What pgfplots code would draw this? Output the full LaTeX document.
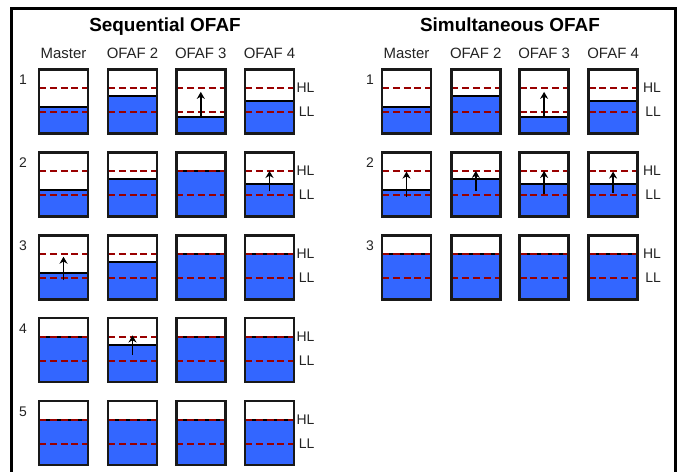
\documentclass[border=0pt]{standalone}
\usepackage{fontspec}
\setmainfont{Liberation Sans}
\usepackage{pgfplots}
\pgfplotsset{compat=1.18}
\usetikzlibrary{arrows.meta}

\definecolor{tankblue}{RGB}{51,102,255}
\definecolor{limitred}{RGB}{153,0,0}
\definecolor{textgray}{RGB}{35,35,35}

% tank: left x, top y (pixels), fill level as fraction of height
% HL = 0.71, LL = 0.335
\newcommand{\tank}[3]{%
  \pgfmathsetmacro\xa{#1}\pgfmathsetmacro\xb{#1+49}%
  \pgfmathsetmacro\ybot{#2+64}%
  \pgfmathsetmacro\ylev{#2+64*(1-#3)}%
  \pgfmathsetmacro\yhl{#2+64*(1-0.71)}%
  \pgfmathsetmacro\yll{#2+64*(1-0.335)}%
  \addplot[fill=tankblue,draw=none] coordinates {(\xa,\ybot) (\xb,\ybot) (\xb,\ylev) (\xa,\ylev)} -- cycle;
  \addplot[black,line width=2bp] coordinates {(\xa,\ylev) (\xb,\ylev)};
  \addplot[limit] coordinates {(\xa,\yhl) (\xb,\yhl)};
  \addplot[limit] coordinates {(\xa,\yll) (\xb,\yll)};
  \addplot[tankedge] coordinates {(\xa,#2) (\xb,#2) (\xb,\ybot) (\xa,\ybot)} -- cycle;
}
% arrow: left x, top y, from level, to level
\newcommand{\arrowup}[4]{%
  \pgfmathsetmacro\xc{#1+24.5}%
  \pgfmathsetmacro\ya{#2+64*(1-#3)}%
  \pgfmathsetmacro\yz{#2+64*(1-#4)}%
  \addplot[black,line width=1.6bp,-{Stealth[length=7bp,width=8bp]}] coordinates {(\xc,\ya) (\xc,\yz)};
}
% row number and HL/LL labels
\newcommand{\rowlabels}[4]{% number x, label x (east), top y, number
  \node[anchor=base,font=\fontsize{14}{16}\selectfont,text=textgray] at (axis cs:#1,#3+15.5) {#4};
  \node[anchor=east,font=\fontsize{14}{16}\selectfont,text=textgray] at (axis cs:#2,#3+64*0.29) {HL};
  \node[anchor=east,font=\fontsize{14}{16}\selectfont,text=textgray] at (axis cs:#2,#3+64*0.665) {LL};
}

\begin{document}
\begin{tikzpicture}
\begin{axis}[
    width=683bp, height=472bp, scale only axis,
    xmin=0, xmax=683, ymin=0, ymax=472,
    y dir=reverse,
    hide axis,
    clip=true,
    limit/.style={limitred,line width=2.3bp,dash pattern=on 7bp off 3.8bp},
    tankedge/.style={draw=black!90,line width=2.5bp},
]
% outer frame
\addplot[black,line width=3bp] coordinates {(11.5,480) (11.5,8.5) (675.5,8.5) (675.5,480)};

% titles and column headers
\node[anchor=base,font=\fontsize{19}{22}\selectfont\bfseries] at (axis cs:165,31.7) {Sequential OFAF};
\node[anchor=base,font=\fontsize{19}{22}\selectfont\bfseries] at (axis cs:510,31.7) {Simultaneous OFAF};
\node[anchor=base,font=\fontsize{15}{18}\selectfont,text=textgray] at (axis cs:63.5,58.3) {Master};
\node[anchor=base,font=\fontsize{15}{18}\selectfont,text=textgray] at (axis cs:132.5,58.3) {OFAF 2};
\node[anchor=base,font=\fontsize{15}{18}\selectfont,text=textgray] at (axis cs:200.8,58.3) {OFAF 3};
\node[anchor=base,font=\fontsize{15}{18}\selectfont,text=textgray] at (axis cs:269.5,58.3) {OFAF 4};
\node[anchor=base,font=\fontsize{15}{18}\selectfont,text=textgray] at (axis cs:406.5,58.3) {Master};
\node[anchor=base,font=\fontsize{15}{18}\selectfont,text=textgray] at (axis cs:475.8,58.3) {OFAF 2};
\node[anchor=base,font=\fontsize{15}{18}\selectfont,text=textgray] at (axis cs:544.1,58.3) {OFAF 3};
\node[anchor=base,font=\fontsize{15}{18}\selectfont,text=textgray] at (axis cs:613.1,58.3) {OFAF 4};

% ---- Sequential OFAF ----
% step 1
\tank{39}{69.5}{0.41}
\tank{108}{69.5}{0.58}
\tank{176.3}{69.5}{0.25}
\tank{245}{69.5}{0.50}
\arrowup{176.3}{69.5}{0.26}{0.65}
\rowlabels{23}{318}{69.5}{1}
% step 2
\tank{39}{152.4}{0.41}
\tank{108}{152.4}{0.58}
\tank{176.3}{152.4}{0.71}
\tank{245}{152.4}{0.51}
\arrowup{245}{152.4}{0.39}{0.71}
\rowlabels{23}{318}{152.4}{2}
% step 3
\tank{39}{235.3}{0.41}
\tank{108}{235.3}{0.58}
\tank{176.3}{235.3}{0.71}
\tank{245}{235.3}{0.71}
\arrowup{39}{235.3}{0.30}{0.665}
\rowlabels{23}{318}{235.3}{3}
% step 4
\tank{39}{318.2}{0.71}
\tank{108}{318.2}{0.58}
\tank{176.3}{318.2}{0.71}
\tank{245}{318.2}{0.71}
\arrowup{108}{318.2}{0.425}{0.73}
\rowlabels{23}{318}{318.2}{4}
% step 5
\tank{39}{401.1}{0.71}
\tank{108}{401.1}{0.71}
\tank{176.3}{401.1}{0.71}
\tank{245}{401.1}{0.71}
\rowlabels{23}{318}{401.1}{5}

% ---- Simultaneous OFAF ----
% step 1
\tank{382}{69.5}{0.41}
\tank{451.3}{69.5}{0.58}
\tank{519.6}{69.5}{0.25}
\tank{588.6}{69.5}{0.50}
\arrowup{519.6}{69.5}{0.26}{0.65}
\rowlabels{370}{664.5}{69.5}{1}
% step 2
\tank{382}{152.4}{0.41}
\tank{451.3}{152.4}{0.58}
\tank{519.6}{152.4}{0.51}
\tank{588.6}{152.4}{0.51}
\arrowup{382}{152.4}{0.31}{0.70}
\arrowup{451.3}{152.4}{0.40}{0.71}
\arrowup{519.6}{152.4}{0.345}{0.71}
\arrowup{588.6}{152.4}{0.37}{0.70}
\rowlabels{370}{664.5}{152.4}{2}
% step 3
\tank{382}{235.3}{0.71}
\tank{451.3}{235.3}{0.71}
\tank{519.6}{235.3}{0.71}
\tank{588.6}{235.3}{0.71}
\rowlabels{370}{664.5}{235.3}{3}
\end{axis}
\pgfresetboundingbox
\useasboundingbox (current axis.south west) rectangle (current axis.north east);
\end{tikzpicture}
\end{document}
